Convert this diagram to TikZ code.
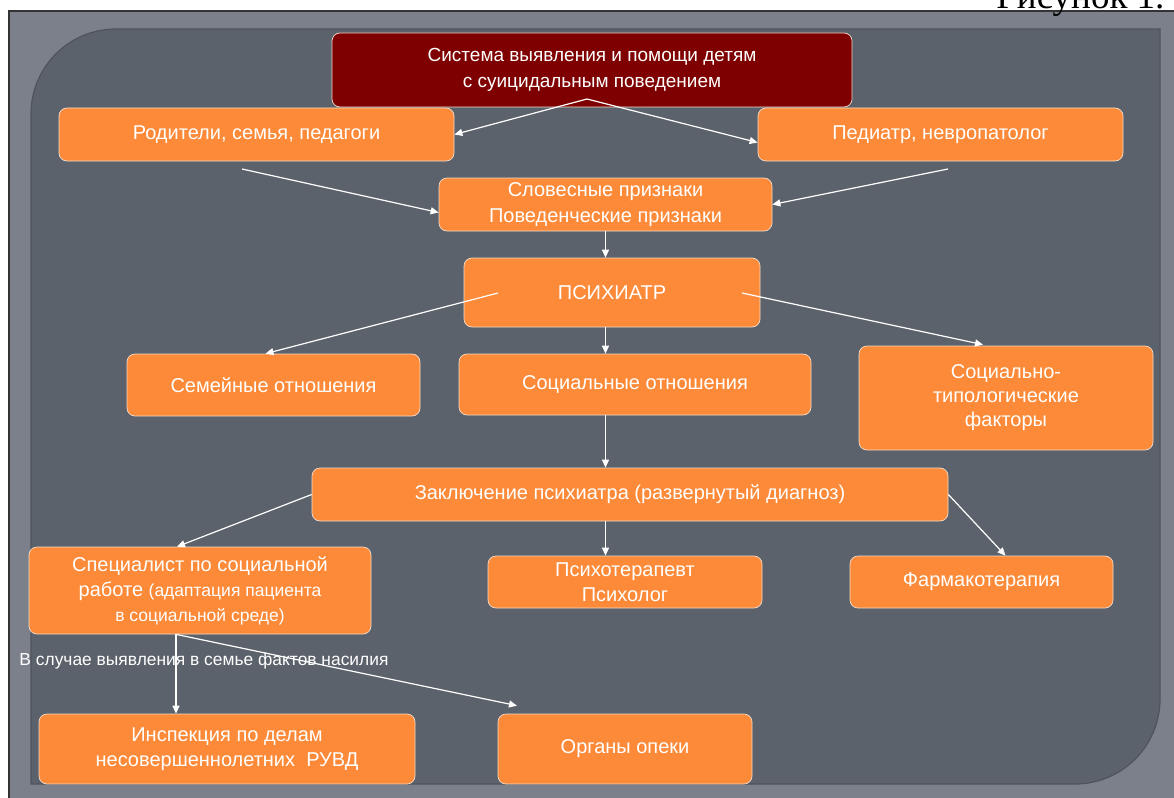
\documentclass[tikz,border=0pt]{standalone}
\usepackage{fontspec}
\setmainfont{Liberation Sans}
\newfontfamily\figfont{Liberation Serif}
\usetikzlibrary{arrows.meta, calc, positioning}

\definecolor{boxorange}{HTML}{FD8A38}
\definecolor{boxedge}{HTML}{F2DCCB}
\definecolor{darkred}{HTML}{7F0000}
\definecolor{outerpanel}{HTML}{7B808A}
\definecolor{innerpanel}{HTML}{5C626B}
\definecolor{panelshade}{HTML}{4F545C}

\begin{document}
\begin{tikzpicture}[x=1pt, y=-1pt, >={Triangle[length=8pt,width=7pt]},
    box/.style={draw=boxedge, line width=0.7pt, fill=boxorange, rounded corners=8pt,
      text=white, align=center, inner sep=0pt, font=\fontsize{20}{25}\selectfont},
    link/.style={->, draw=white, line width=1.2pt}]
  \useasboundingbox (0,0) rectangle (1174,797);
  \fill[white] (0,0) rectangle (1174,797);
  % background panels
  \fill[outerpanel] (9,11) rectangle (1180,800);
  \draw[black!80, line width=1.5pt] (9,800) -- (9,11) -- (1180,11);
  \fill[innerpanel] (31,784) -- (31,114) .. controls (31,67) and (69,29) .. (116,29)
    -- (1160,29) -- (1160,699) .. controls (1160,746) and (1122,784) .. (1075,784) -- cycle;
  \draw[panelshade, line width=1.2pt] (31,784) -- (31,114) .. controls (31,67) and (69,29) .. (116,29)
    -- (1160,29) -- (1160,699) .. controls (1160,746) and (1122,784) .. (1075,784) -- cycle;
  \node[anchor=base east, font=\figfont\fontsize{37}{40}\selectfont] (fig) at (1168,9) {Рисунок 1.};

  % boxes
  \node[box, fill=darkred, minimum width=520, minimum height=74,
    font=\fontsize{19}{26}\selectfont] (sys) at (592,70)
    {Система выявления и помощи детям\\ с суицидальным поведением};
  \node[box, minimum width=395, minimum height=53] (rod) at (256.5,134.5) {Родители, семья, педагоги};
  \node[box, minimum width=365, minimum height=53] (ped) at (940.5,134.5) {Педиатр, невропатолог};
  \node[box, minimum width=333, minimum height=53, font=\fontsize{20}{26}\selectfont] (slov) at (605.5,204.5)
    {Словесные признаки\\ Поведенческие признаки};
  \node[box, minimum width=296, minimum height=69] (psy) at (612,292.5) {ПСИХИАТР};
  \node[box, minimum width=293, minimum height=62] (sem) at (273.5,385) {Семейные отношения};
  \node[box, minimum width=352, minimum height=61] (soc) at (635,384.5) {Социальные отношения};
  \node[box, minimum width=294, minimum height=104, font=\fontsize{20}{24}\selectfont] (tip) at (1006,398)
    {Социально-\\ типологические\\ факторы};
  \node[box, minimum width=636, minimum height=53] (zak) at (630,494.5)
    {Заключение психиатра (развернутый диагноз)};
  \node[box, minimum width=342, minimum height=87] (spec) at (200,590.5)
    {Специалист по социальной\\ работе {\fontsize{17.5}{20}\selectfont (адаптация пациента}\\
     {\fontsize{17.5}{20}\selectfont в социальной среде)}};
  \node[box, minimum width=274, minimum height=52] (psyt) at (625,582) {Психотерапевт\\ Психолог};
  \node[box, minimum width=263, minimum height=52] (farm) at (981.5,582) {Фармакотерапия};
  \node[box, minimum width=376, minimum height=70] (insp) at (227,749)
    {Инспекция по делам\\ несовершеннолетних~~РУВД};
  \node[box, minimum width=254, minimum height=70] (org) at (625,749) {Органы опеки};

  \node[text=white, font=\fontsize{17.4}{20}\selectfont] (viol) at (204,661)
    {В случае выявления в семье фактов насилия};

  % free ends of connectors
  \coordinate (sysA) at (587,99);
  \coordinate (rodA) at (242,169);
  \coordinate (pedA) at (948,169);
  \coordinate (psyL) at (498,293);
  \coordinate (psyR) at (742,293);
  \coordinate (axis) at (605.5,0);
  \coordinate (specB) at ($(spec.south)+(-24,0)$);

  % connectors
  \draw[link] (sysA) -- (rod.east);
  \draw[link] (sysA) -- ($(ped.west)+(0,8)$);
  \draw[link] (rodA) -- ($(slov.west)+(0,8)$);
  \draw[link] (pedA) -- (slov.east);
  \draw[link] (axis |- slov.south) -- (axis |- psy.north);
  \draw[link] (psyL) -- ($(sem.north)+(-8,0)$);
  \draw[link] (psyR) -- ($(tip.north)+(-23,-1)$);
  \draw[link] (axis |- psy.south) -- (axis |- soc.north);
  \draw[link] (axis |- soc.south) -- (axis |- zak.north);
  \draw[link] (axis |- zak.south) -- (axis |- psyt.north);
  \draw[link] (zak.west) -- ($(spec.north)+(-23,0)$);
  \draw[link] (zak.east) -- ($(farm.north)+(24,0)$);
  \draw[link] (specB) -- (specB |- insp.north);
  \draw[link] (specB) -- ($(org.north)+(-108,-8)$);
\end{tikzpicture}
\end{document}
